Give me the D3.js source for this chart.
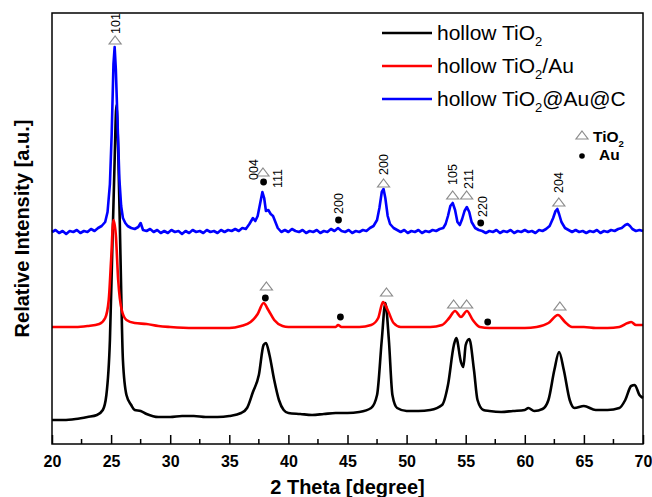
<!DOCTYPE html>
<html>
<head>
<meta charset="utf-8">
<script src="https://cdn.jsdelivr.net/npm/d3@7"></script>
<style>
  body { margin: 0; background: #fff; }
  svg { font-family: "Liberation Sans", Arial, sans-serif; }
</style>
</head>
<body>
<div id="chart"></div>
<script>
// XRD patterns, intensity in arbitrary units
var blackTheta = [20, 21, 22, 23, 23.8, 24.3, 24.6, 24.9, 25.1, 25.3, 25.45, 25.6, 25.8, 26.0, 26.3, 26.7, 27, 27.5, 28, 29, 30, 31, 32, 33, 34, 35, 36, 36.5, 37, 37.5, 37.9, 38.1, 38.4, 38.8, 39.2, 39.6, 40, 41, 42, 43, 44, 45, 46, 47, 47.5, 47.9, 48.2, 48.5, 48.8, 49.2, 50, 51, 52, 53, 53.5, 54.0, 54.2, 54.6, 54.8, 55.0, 55.3, 55.7, 56.0, 56.5, 57, 58, 59, 60, 60.3, 60.8, 61.5, 62, 62.5, 62.9, 63.3, 63.8, 64.2, 65, 66, 67, 68, 68.5, 69.0, 69.3, 69.7, 70];
var blackInt = [24, 24, 25, 27, 29, 34, 49, 104, 194, 284, 339, 294, 184, 84, 49, 39, 34, 33, 30, 27, 27, 28, 28, 27, 27, 28, 31, 36, 52, 69, 99, 101, 89, 64, 44, 34, 31, 30, 29, 30, 31, 31, 32, 36, 49, 104, 141, 104, 49, 36, 33, 33, 34, 39, 59, 99, 106, 82, 77, 99, 105, 74, 44, 34, 33, 32, 33, 34, 36, 33, 35, 44, 74, 92, 74, 44, 36, 38, 34, 34, 36, 44, 58, 59, 49, 46];

var redTheta = [20, 21, 22, 23, 24, 24.5, 24.8, 25.0, 25.2, 25.4, 25.6, 25.9, 26.3, 27, 28, 29, 30, 32, 34, 35, 36, 36.8, 37.4, 37.9, 38.3, 38.8, 39.5, 40, 42, 44, 44.2, 44.5, 46, 47, 47.6, 48.0, 48.4, 48.9, 49.5, 50, 52, 53, 53.6, 54.1, 54.6, 55.1, 55.6, 56.2, 57, 58, 60, 61, 62, 62.8, 63.4, 64, 65, 66, 67, 68, 68.7, 69, 69.4, 70];
var redInt = [117, 117, 117, 118, 120, 126, 144, 184, 224, 209, 164, 134, 124, 121, 120, 118, 117, 116, 116, 116, 118, 122, 130, 141, 134, 124, 118, 117, 117, 117, 119, 117, 117, 119, 126, 142, 134, 121, 117, 117, 117, 119, 126, 133, 127, 133, 124, 117, 116, 116, 116, 117, 121, 129, 122, 117, 117, 116, 116, 117, 121, 122, 119, 119];

var blueTheta = [20.0, 20.3, 20.6, 20.9, 21.2, 21.5, 21.8, 22.1, 22.4, 22.7, 23.0, 23.3, 23.6, 23.9, 24.2, 24.5, 24.7, 24.9, 25.05, 25.2, 25.3, 25.4, 25.55, 25.7, 25.85, 26.0, 26.2, 26.4, 26.7, 27.0, 27.3, 27.5, 27.7, 28.0, 28.3, 28.6, 28.9, 29.2, 29.5, 29.8, 30.1, 30.4, 30.7, 31.0, 31.3, 31.6, 31.9, 32.2, 32.5, 32.8, 33.1, 33.4, 33.7, 34.0, 34.3, 34.6, 34.9, 35.2, 35.5, 35.8, 36.1, 36.4, 36.7, 37.0, 37.2, 37.4, 37.6, 37.8, 37.95, 38.1, 38.3, 38.5, 38.7, 38.9, 39.1, 39.4, 39.7, 40.0, 40.3, 40.6, 40.9, 41.2, 41.5, 41.8, 42.1, 42.4, 42.7, 43.0, 43.3, 43.6, 43.9, 44.2, 44.5, 44.8, 45.1, 45.4, 45.7, 46.0, 46.3, 46.6, 46.9, 47.2, 47.5, 47.7, 47.9, 48.05, 48.2, 48.4, 48.6, 48.9, 49.2, 49.5, 49.8, 50.1, 50.4, 50.7, 51.0, 51.3, 51.6, 51.9, 52.2, 52.5, 52.8, 53.1, 53.3, 53.5, 53.7, 53.9, 54.1, 54.3, 54.5, 54.7, 54.9, 55.1, 55.3, 55.5, 55.8, 56.1, 56.4, 56.7, 57.0, 57.3, 57.6, 57.9, 58.2, 58.5, 58.8, 59.1, 59.4, 59.7, 60.0, 60.3, 60.6, 60.9, 61.2, 61.5, 61.8, 62.1, 62.4, 62.6, 62.75, 62.9, 63.1, 63.4, 63.7, 64.0, 64.3, 64.6, 64.9, 65.2, 65.5, 65.8, 66.1, 66.4, 66.7, 67.0, 67.3, 67.6, 67.9, 68.2, 68.5, 68.7, 68.9, 69.1, 69.4, 69.7, 70.0];
var blueInt = [212, 214, 211, 213, 210, 213, 212, 214, 211, 213, 212, 215, 213, 216, 218, 222, 232, 260, 310, 380, 397, 375, 320, 265, 238, 226, 221, 218, 216, 215, 217, 221, 214, 213, 215, 212, 214, 211, 213, 211, 214, 212, 213, 210, 213, 211, 214, 212, 213, 211, 214, 212, 213, 211, 214, 212, 214, 213, 215, 213, 216, 215, 220, 226, 223, 228, 240, 252, 246, 233, 234, 230, 228, 222, 216, 212, 214, 212, 215, 213, 212, 214, 211, 213, 212, 214, 211, 213, 212, 215, 213, 216, 213, 212, 214, 211, 213, 212, 214, 213, 216, 218, 224, 236, 252, 255, 246, 228, 220, 216, 214, 212, 214, 211, 213, 212, 214, 211, 213, 212, 214, 213, 215, 216, 220, 228, 238, 241, 234, 222, 219, 225, 233, 237, 232, 222, 216, 214, 213, 211, 213, 212, 214, 211, 213, 212, 214, 211, 213, 212, 214, 212, 213, 211, 214, 213, 215, 218, 226, 233, 235, 230, 222, 216, 214, 212, 214, 212, 213, 211, 213, 212, 214, 211, 213, 212, 214, 213, 215, 216, 219, 220, 218, 215, 213, 214, 213];

var seriesNames = ["hollow TiO|2|", "hollow TiO|2|/Au", "hollow TiO|2|@Au@C"];
var seriesColors = ["#000000", "#ff0000", "#0000ff"];

// peak markers: [2theta, intensity]
var tio2Blue = [[25.34, 404], [37.85, 272], [48.05, 261], [53.9, 249], [55.08, 249], [62.88, 242]];
var auBlue = [[37.9, 262], [44.24, 224], [56.27, 221]];
var tio2Red = [[38.14, 158], [48.3, 152], [53.98, 140], [55.08, 140], [62.97, 138]];
var auRed = [[38.05, 146], [44.4, 127], [56.86, 122]];

// hkl labels: [text, 2theta, intensity at the text's lower end]
var hklLabels = [["101", 25.34, 410], ["004", 37.03, 264], ["111", 39.07, 256], ["200", 44.24, 230],
  ["200", 48.05, 269], ["105", 53.9, 259], ["211", 55.25, 255], ["220", 56.44, 227], ["204", 62.88, 251]];

var xTicks = [20, 25, 30, 35, 40, 45, 50, 55, 60, 65, 70];
var xMinor = [22.5, 27.5, 32.5, 37.5, 42.5, 47.5, 52.5, 57.5, 62.5, 67.5];

var width = 652, height = 497;
var pLeft = 52, pRight = 643, pTop = 13, pBottom = 444;

var svg = d3.select("#chart").append("svg")
  .attr("width", width)
  .attr("height", height);

var x = d3.scaleLinear().domain([20, 70]).range([pLeft, pRight]);
var y = d3.scaleLinear().domain([0, 431]).range([pBottom, pTop]);

// curves
var line = d3.line()
  .x(function(d) { return x(d[0]); })
  .y(function(d) { return y(d[1]); });

function pairs(t, v) { return t.map(function(d, i) { return [d, v[i]]; }); }

svg.append("path")
  .datum(pairs(blackTheta, blackInt))
  .attr("d", line.curve(d3.curveMonotoneX))
  .attr("fill", "none").attr("stroke", seriesColors[0]).attr("stroke-width", 2.6)
  .attr("stroke-linejoin", "round");

svg.append("path")
  .datum(pairs(redTheta, redInt))
  .attr("d", line.curve(d3.curveMonotoneX))
  .attr("fill", "none").attr("stroke", seriesColors[1]).attr("stroke-width", 2.6)
  .attr("stroke-linejoin", "round");

svg.append("path")
  .datum(pairs(blueTheta, blueInt))
  .attr("d", line.curve(d3.curveLinear))
  .attr("fill", "none").attr("stroke", seriesColors[2]).attr("stroke-width", 2.6)
  .attr("stroke-linejoin", "round");

// markers
function triangles(data) {
  svg.selectAll(null).data(data).enter().append("path")
    .attr("d", "M0,-4 L6,4 L-6,4 Z")
    .attr("transform", function(d) { return "translate(" + x(d[0]) + "," + y(d[1]) + ")"; })
    .attr("fill", "#fff").attr("stroke", "#8c8c8c").attr("stroke-width", 1.2);
}
function dots(data) {
  svg.selectAll(null).data(data).enter().append("circle")
    .attr("cx", function(d) { return x(d[0]); })
    .attr("cy", function(d) { return y(d[1]); })
    .attr("r", 3.4).attr("fill", "#000");
}
triangles(tio2Blue); dots(auBlue);
triangles(tio2Red); dots(auRed);

svg.selectAll(".hkl").data(hklLabels).enter().append("text")
  .attr("class", "hkl")
  .attr("transform", function(d) { return "translate(" + x(d[1]) + "," + y(d[2]) + ") rotate(-90)"; })
  .attr("dy", "0.36em")
  .attr("font-size", 12.5)
  .attr("fill", "#000")
  .text(function(d) { return d[0]; });

// frame
svg.append("rect")
  .attr("x", pLeft).attr("y", pTop)
  .attr("width", pRight - pLeft).attr("height", pBottom - pTop)
  .attr("fill", "none").attr("stroke", "#000").attr("stroke-width", 1.5);

// x axis, ticks pointing inward
var xAxis = d3.axisBottom(x).tickValues(xTicks).tickSize(-9).tickPadding(12).tickFormat(d3.format("d"));
var gx = svg.append("g").attr("transform", "translate(0," + pBottom + ")").call(xAxis);
gx.select(".domain").remove();
gx.selectAll("line").attr("stroke-width", 1.5);
gx.selectAll("text").attr("font-size", 16).attr("font-weight", "bold").attr("fill", "#000")
  .attr("font-family", "'Liberation Sans', Arial, sans-serif");

svg.append("g").selectAll("line").data(xMinor).enter().append("line")
  .attr("x1", function(d) { return x(d); }).attr("x2", function(d) { return x(d); })
  .attr("y1", pBottom).attr("y2", pBottom - 5)
  .attr("stroke", "#000").attr("stroke-width", 1.5);

// axis titles
svg.append("text")
  .attr("x", (pLeft + pRight) / 2).attr("y", 494)
  .attr("text-anchor", "middle")
  .attr("font-size", 20).attr("font-weight", "bold")
  .text("2 Theta [degree]");

svg.append("text")
  .attr("transform", "translate(29," + ((pTop + pBottom) / 2) + ") rotate(-90)")
  .attr("text-anchor", "middle")
  .attr("font-size", 20).attr("font-weight", "bold")
  .text("Relative Intensity [a.u.]");

// legend
function subText(sel, label, size) {
  label.split("|").forEach(function(part, i) {
    var t = sel.append("tspan").text(part);
    if (i === 1) t.attr("font-size", size * 0.62).attr("dy", size * 0.3);
    if (i === 2) t.attr("dy", -size * 0.3);
  });
}

var legend = svg.append("g");
seriesNames.forEach(function(name, i) {
  var ly = 33 + i * 33;
  legend.append("line")
    .attr("x1", 382).attr("x2", 432).attr("y1", ly).attr("y2", ly)
    .attr("stroke", seriesColors[i]).attr("stroke-width", 2.6);
  var t = legend.append("text")
    .attr("x", 437).attr("y", ly + 7)
    .attr("font-size", 21);
  subText(t, name, 21);
});

legend.append("path")
  .attr("d", "M0,-4 L6,4 L-6,4 Z")
  .attr("transform", "translate(582,135)")
  .attr("fill", "#fff").attr("stroke", "#8c8c8c").attr("stroke-width", 1.2);
var tl = legend.append("text").attr("x", 593).attr("y", 142)
  .attr("font-size", 15.5).attr("font-weight", "bold");
subText(tl, "TiO|2|", 15.5);

legend.append("circle").attr("cx", 582).attr("cy", 156).attr("r", 2.8).attr("fill", "#000");
legend.append("text").attr("x", 599).attr("y", 160)
  .attr("font-size", 15.5).attr("font-weight", "bold")
  .text("Au");
</script>
</body>
</html>
